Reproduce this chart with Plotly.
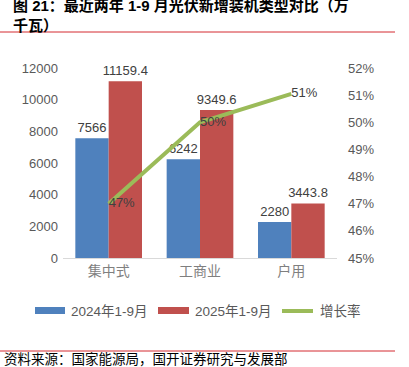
import plotly.graph_objects as go

categories = ["集中式", "工商业", "户用"]
values_2024 = [7566, 6242, 2280]
values_2025 = [11159.4, 9349.6, 3443.8]
growth_rate = [0.470, 0.500, 0.5105]
label_2024 = ["7566", "6242", "2280"]
label_2025 = ["11159.4", "9349.6", "3443.8"]
series_names = ["2024年1-9月", "2025年1-9月", "增长率"]

BLUE = "#4F81BD"
RED = "#C0504D"
GREEN = "#9BBB59"
FONT = "Liberation Sans, Noto Sans CJK SC, sans-serif"

W, H = 409, 367
L, R, T, B = 63, 72, 68, 109
PW, PH = W - L - R, H - T - B


def px(x):
    return (x - L) / PW


def py(y):
    return (H - B - y) / PH


fig = go.Figure()
fig.add_trace(go.Bar(x=categories, y=values_2024, name=series_names[0], marker_color=BLUE,
                     marker_line_width=0, text=label_2024, textposition="outside",
                     constraintext="none",
                     textfont=dict(size=13, color="#404040", family=FONT), cliponaxis=False,
                     showlegend=False))
fig.add_trace(go.Bar(x=categories, y=values_2025, name=series_names[1], marker_color=RED,
                     marker_line_width=0, text=label_2025, textposition="outside",
                     constraintext="none",
                     textfont=dict(size=13, color="#404040", family=FONT), cliponaxis=False,
                     showlegend=False))
fig.add_trace(go.Scatter(x=categories, y=growth_rate, name=series_names[2], yaxis="y2",
                         mode="lines+text", line=dict(color=GREEN, width=4),
                         texttemplate="%{y:.0%}", textposition="middle right",
                         textfont=dict(size=13, color="#404040", family=FONT),
                         cliponaxis=False, showlegend=False))

shapes = [
    dict(type="line", xref="paper", yref="paper", x0=px(0), x1=px(395), y0=py(32), y1=py(32),
         line=dict(color="#D42A30", width=1)),
    dict(type="line", xref="paper", yref="paper", x0=px(0), x1=px(395), y0=py(351), y1=py(351),
         line=dict(color="#D42A30", width=1)),
    # legend swatches
    dict(type="rect", xref="paper", yref="paper", x0=px(35), x1=px(65), y0=py(307), y1=py(314),
         fillcolor=BLUE, line=dict(width=0)),
    dict(type="rect", xref="paper", yref="paper", x0=px(158), x1=px(189), y0=py(307), y1=py(314),
         fillcolor=RED, line=dict(width=0)),
    dict(type="line", xref="paper", yref="paper", x0=px(282), x1=px(313), y0=py(311), y1=py(311),
         line=dict(color=GREEN, width=4)),
]

annotations = [
    dict(text="<b>图 21：最近两年 1-9 月光伏新增装机类型对比（万<br>千瓦）</b>", x=px(11), y=py(15),
         xref="paper", yref="paper", xanchor="left", yanchor="middle", align="left",
         showarrow=False, font=dict(size=15, color="#000000", family=FONT)),
    dict(text="资料来源：国家能源局，国开证券研究与发展部", x=px(2), y=py(358),
         xref="paper", yref="paper", xanchor="left", yanchor="middle", showarrow=False,
         font=dict(size=13.5, color="#000000", family="Noto Sans CJK SC")),
]
for name, xx in zip(series_names, [69, 193, 318]):
    annotations.append(dict(text=name, x=px(xx), y=py(311), xref="paper", yref="paper",
                            xanchor="left", yanchor="middle", showarrow=False,
                            font=dict(size=13.5, color="#595959", family=FONT)))

fig.update_layout(
    width=W, height=H,
    margin=dict(l=L, r=R, t=T, b=B),
    paper_bgcolor="white", plot_bgcolor="white",
    barmode="group", bargap=0.27, bargroupgap=0,
    font=dict(family=FONT, color="#595959", size=13),
    xaxis=dict(showline=True, linecolor="#D9D9D9", linewidth=1, ticks="",
               tickfont=dict(size=14, color="#7F7F7F", family="Noto Sans CJK SC")),
    yaxis=dict(range=[0, 12000], dtick=2000, tickformat="d", showgrid=False, zeroline=False,
               showline=False, tickfont=dict(size=13, color="#595959"), ticklabelstandoff=4),
    yaxis2=dict(range=[0.45, 0.52], dtick=0.01, tickformat=".0%", overlaying="y", side="right",
                showgrid=False, zeroline=False, showline=False,
                tickfont=dict(size=13, color="#595959"), ticklabelstandoff=10),
    shapes=shapes,
    annotations=annotations,
    showlegend=False,
)

fig.write_html("out.html", config={"displayModeBar": False},
               post_script="document.body.style.margin='0';")
